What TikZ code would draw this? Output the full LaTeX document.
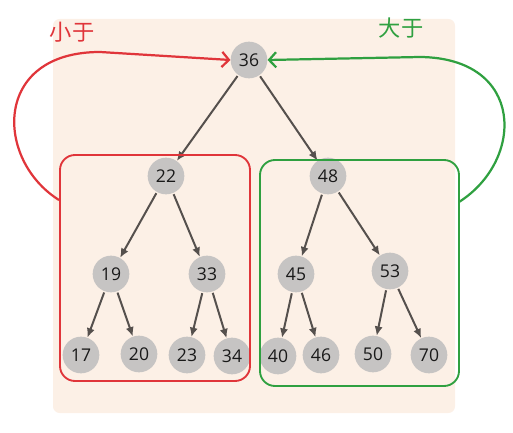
\documentclass[tikz,border=0pt]{standalone}
\usepackage{fontspec}
\setsansfont{Open Sans}
\newfontfamily\cjk{Noto Sans CJK SC}
\usetikzlibrary{arrows.meta}
\definecolor{peach}{HTML}{FCF0E6}
\definecolor{keygray}{HTML}{C6C4C3}
\definecolor{edgegray}{HTML}{55504D}
\definecolor{lessred}{HTML}{E0353A}
\definecolor{moregreen}{HTML}{2FA040}
\tikzset{
  key/.style={circle, fill=keygray, minimum size=1.1cm, inner sep=0pt, font=\sffamily\fontsize{15}{15}\selectfont, text=black!90},
  link/.style={-{Latex[length=8pt, width=7pt]}, draw=edgegray, line width=1.7pt, shorten <=1pt},
  part/.style={rounded corners=0.45cm, line width=1.6pt},
  hand/.style={line width=1.9pt, -{Straight Barb[length=6pt, width=13pt]}}
}
\begin{document}
\begin{tikzpicture}[x=0.03cm, y=-0.03cm]
    \useasboundingbox (0,0) rectangle (513,433);
    \fill[peach, rounded corners=0.2cm] (53,19) rectangle (455,413);

    \node[key] (k36) at (249,60) {36};
    \node[key] (k22) at (166,176) {22};
    \node[key] (k48) at (328,176) {48};
    \node[key] (k19) at (111,274) {19};
    \node[key] (k33) at (207,274) {33};
    \node[key] (k45) at (296,274) {45};
    \node[key] (k53) at (390,271) {53};
    \node[key] (k17) at (81,355) {17};
    \node[key] (k20) at (139,354) {20};
    \node[key] (k23) at (187,355) {23};
    \node[key] (k34) at (232,356) {34};
    \node[key] (k40) at (278,356) {40};
    \node[key] (k46) at (321,355) {46};
    \node[key] (k50) at (373,354) {50};
    \node[key] (k70) at (429,355) {70};

    \draw[link] (k36) to (k22);
    \draw[link] (k36) to (k48);
    \draw[link] (k22) to (k19);
    \draw[link] (k22) to (k33);
    \draw[link] (k48) to (k45);
    \draw[link] (k48) to (k53);
    \draw[link] (k19) to (k17);
    \draw[link] (k19) to (k20);
    \draw[link] (k33) to (k23);
    \draw[link] (k33) to (k34);
    \draw[link] (k45) to (k40);
    \draw[link] (k45) to (k46);
    \draw[link] (k53) to (k50);
    \draw[link] (k53) to (k70);

    % left and right subtrees
    \draw[part, lessred] (60,155) rectangle (250,381);
    \draw[part, moregreen] (260,160) rectangle (459,386);

    \coordinate (lessfoot) at (59,200);
    \coordinate (morefoot) at (459,202);
    \draw[hand, lessred] (lessfoot) .. controls (-5,160) and (-8,52) .. (100,52) -- (k36.west);
    \draw[hand, moregreen] (morefoot) .. controls (525,160) and (525,58) .. (420,57) -- (k36.east);

    \node[lessred, font=\cjk\fontsize{19}{19}\selectfont] (less) at (72,32) {小于};
    \node[moregreen, font=\cjk\fontsize{19}{19}\selectfont] (more) at (401,28) {大于};
  \end{tikzpicture}
\end{document}
